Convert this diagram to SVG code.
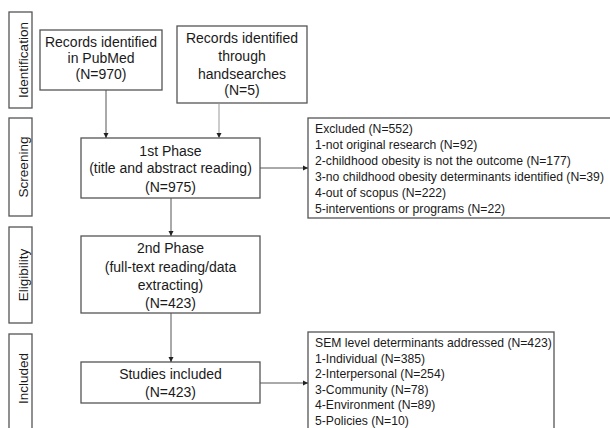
<svg xmlns="http://www.w3.org/2000/svg" width="610" height="428" viewBox="0 0 610 428">
<defs>
<style>
.box{fill:#fff;stroke:#555;stroke-width:1.3}
.t{font-family:"Liberation Sans",Arial,sans-serif;font-size:14px;fill:#1a1a1a;text-anchor:middle}
.s{font-family:"Liberation Sans",Arial,sans-serif;font-size:13.5px;fill:#1a1a1a;text-anchor:middle}
.l{font-family:"Liberation Sans",Arial,sans-serif;font-size:12.2px;fill:#1a1a1a}
.c{stroke:#555;stroke-width:1;fill:none;marker-end:url(#ah)}
</style>
<marker id="ah" markerWidth="6" markerHeight="6" refX="5" refY="3" orient="auto" markerUnits="userSpaceOnUse">
<path d="M0,0.5 L5,3 L0,5.5 Z" fill="#222"/>
</marker>
</defs>
<rect width="610" height="428" fill="#fff"/>
<g id="side-identification"><rect class="box" x="9" y="12" width="23" height="96"/><text class="s" transform="translate(27.5,60) rotate(-90)">Identification</text></g>
<g id="side-screening"><rect class="box" x="9" y="118" width="23" height="98"/><text class="s" transform="translate(27.5,167) rotate(-90)">Screening</text></g>
<g id="side-eligibility"><rect class="box" x="9" y="227" width="23" height="96"/><text class="s" transform="translate(27.5,275) rotate(-90)">Eligibility</text></g>
<g id="side-included"><rect class="box" x="9" y="334" width="23" height="100"/><text class="s" transform="translate(27.5,378.5) rotate(-90)">Included</text></g>
<g id="pubmed"><rect class="box" x="40" y="30" width="122" height="60"/>
<text class="t" x="101" y="47">Records identified</text><text class="t" x="101" y="63">in PubMed</text><text class="t" x="101" y="79">(N=970)</text></g>
<g id="handsearch"><rect class="box" x="177" y="26" width="130" height="77"/>
<text class="t" x="242" y="43.3">Records identified</text><text class="t" x="242" y="61">through</text><text class="t" x="242" y="78.7">handsearches</text><text class="t" x="242" y="95">(N=5)</text></g>
<g id="phase1"><rect class="box" x="81" y="138" width="179" height="60"/>
<text class="t" x="170.5" y="155.7">1st Phase</text><text class="t" x="170.5" y="173.3">(title and abstract reading)</text><text class="t" x="170.5" y="192">(N=975)</text></g>
<g id="excluded"><rect class="box" x="308" y="118" width="303" height="100"/>
<text class="l" x="315" y="132.5">Excluded (N=552)</text>
<text class="l" x="315" y="148.6">1-not original research (N=92)</text>
<text class="l" x="315" y="164.7">2-childhood obesity is not the outcome (N=177)</text>
<text class="l" x="315" y="180.8">3-no childhood obesity determinants identified (N=39)</text>
<text class="l" x="315" y="196.9">4-out of scopus (N=222)</text>
<text class="l" x="315" y="213">5-interventions or programs (N=22)</text></g>
<g id="phase2"><rect class="box" x="81" y="236" width="179" height="77"/>
<text class="t" x="170.5" y="253.3">2nd Phase</text><text class="t" x="170.5" y="271.7">(full-text reading/data</text><text class="t" x="170.5" y="290">extracting)</text><text class="t" x="170.5" y="307.7">(N=423)</text></g>
<g id="studies"><rect class="box" x="81" y="362" width="179" height="41"/>
<text class="t" x="170.5" y="379">Studies included</text><text class="t" x="170.5" y="396.7">(N=423)</text></g>
<g id="sem"><rect class="box" x="308" y="332" width="246" height="104"/>
<text class="l" x="315" y="347">SEM level determinants addressed (N=423)</text>
<text class="l" x="315" y="362.6">1-Individual (N=385)</text>
<text class="l" x="315" y="378.2">2-Interpersonal (N=254)</text>
<text class="l" x="315" y="393.8">3-Community (N=78)</text>
<text class="l" x="315" y="409.4">4-Environment (N=89)</text>
<text class="l" x="315" y="424.5">5-Policies (N=10)</text></g>
<g id="connectors">
<line class="c" x1="106" y1="90" x2="106" y2="138"/>
<line class="c" x1="219" y1="103" x2="219" y2="138" style="stroke:#999"/>
<line class="c" x1="260" y1="168" x2="308" y2="168"/>
<line class="c" x1="171" y1="198" x2="171" y2="236"/>
<line class="c" x1="171" y1="313" x2="171" y2="362"/>
<line class="c" x1="260" y1="383" x2="308" y2="383"/>
</g>
</svg>
